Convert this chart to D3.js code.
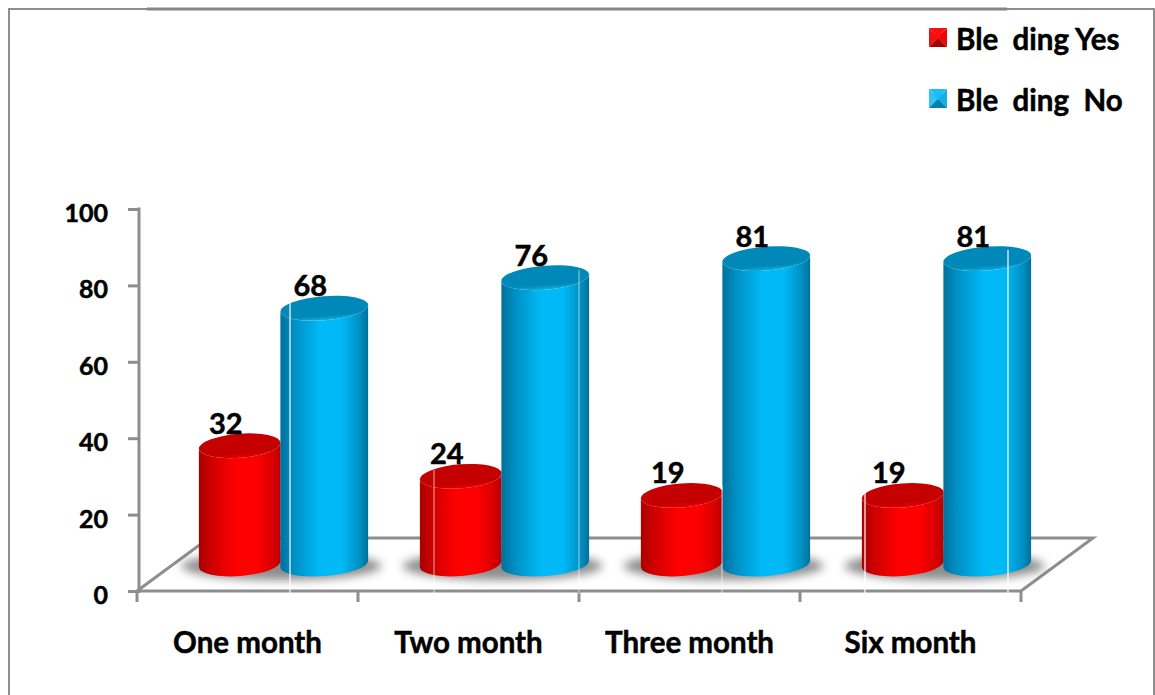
<!DOCTYPE html>
<html>

<head>
    <meta charset="utf-8">
    <title>Bleeding by month</title>
    <script src="https://cdn.jsdelivr.net/npm/d3@7/dist/d3.min.js"></script>
</head>

<style>
    html,
    body {
        margin: 0;
        padding: 0;
        background: #fff;
    }

    svg {
        display: block;
    }

    text {
        font-family: Lato, "Open Sans", sans-serif;
        font-weight: 700;
        fill: #000;
        stroke: #000;
        stroke-width: 0.5px;
        white-space: pre;
    }
</style>

<body>
    <svg width="1155" height="695" id="mainsvg"></svg>
    <script>
        const categories = ['One month', 'Two month', 'Three month', 'Six month'];
        const seriesNames = ['Ble  ding Yes', 'Ble  ding  No'];
        const bleedingYes = [32, 24, 19, 19];
        const bleedingNo = [68, 76, 81, 81];
        const yTicks = [0, 20, 40, 60, 80, 100];

        const svg = d3.select('svg');
        const grey = '#8e8e8e';

        // plot area: the front edge of the floor runs along the bottom of the axis
        const x = d3.scaleBand().domain(categories).range([137, 1021]);
        const y = d3.scaleLinear().domain([0, 100]).range([591, 209]);
        // the pair of cylinders inside one category band
        const inner = d3.scaleBand().domain(seriesNames).range([-50, 119]);

        const depthX = 72, depthY = 53;   // how far the floor recedes
        const topLift = 23;               // cap centre sits this far above the axis value
        const baseY = 564;                // centre of the cylinder feet
        const ry = 12;
        const tilt = -4.5;                // degrees, the caps lean a little
        const radius = [41, 44];

        const defs = svg.append('defs');

        function sideGradient(id, edgeL, mid, edgeR) {
            const g = defs.append('linearGradient').attr('id', id);
            [[0, edgeL], [0.14, d3.interpolateRgb(edgeL, mid)(0.4)], [0.45, mid], [0.7, mid], [0.9, d3.interpolateRgb(edgeR, mid)(0.45)], [1, edgeR]]
                .forEach(s => g.append('stop').attr('offset', s[0]).attr('stop-color', s[1]));
        }
        sideGradient('sideYes', '#a80000', '#ff0000', '#b80000');
        sideGradient('sideNo', '#00709c', '#00b9f6', '#00709a');

        function capGradient(id, back, front) {
            const g = defs.append('linearGradient').attr('id', id)
                .attr('x1', 0).attr('y1', 0).attr('x2', 0).attr('y2', 1);
            [[0, back], [0.8, back], [1, front]]
                .forEach(s => g.append('stop').attr('offset', s[0]).attr('stop-color', s[1]));
        }
        capGradient('capYes', '#c40000', '#e80000');
        capGradient('capNo', '#0088b8', '#12aee0');

        defs.append('filter').attr('id', 'soft')
            .attr('x', '-20%').attr('y', '-80%').attr('width', '140%').attr('height', '260%')
            .append('feGaussianBlur').attr('stdDeviation', 5);

        // outer frame
        const frame = svg.append('g');
        frame.append('path').attr('d', 'M9,695V9H1154V695')
            .attr('fill', 'none').attr('stroke', grey).attr('stroke-width', 2);
        frame.append('path').attr('d', 'M147,9H1007')
            .attr('fill', 'none').attr('stroke', '#858585').attr('stroke-width', 3);

        // floor
        const floor = svg.append('g').attr('fill', 'none').attr('stroke', grey).attr('stroke-width', 3);
        floor.append('path').attr('d', d3.line()([
            [x.range()[0], y(0)],
            [x.range()[0] + depthX, y(0) - depthY],
            [x.range()[1] + depthX, y(0) - depthY],
            [x.range()[1], y(0)],
            [x.range()[0], y(0)]
        ]));

        // y axis
        const yAxis = svg.append('g')
            .attr('transform', 'translate(139,0)')
            .call(d3.axisLeft(y).tickValues(yTicks).tickSize(11).tickPadding(20));
        yAxis.selectAll('line').attr('stroke', grey).attr('stroke-width', 3);
        yAxis.select('.domain').attr('stroke', grey).attr('stroke-width', 3).attr('d', 'M0,207.5V593');
        yAxis.selectAll('text').attr('font-size', 25).attr('dy', '0.5em');

        // x axis: labels in the band centres, tick marks on the band edges
        const xAxis = svg.append('g')
            .attr('transform', `translate(0,${y(0)})`)
            .call(d3.axisBottom(x).tickSize(0).tickPadding(41));
        xAxis.select('.domain').remove();
        xAxis.selectAll('text').attr('font-size', 29.5);
        xAxis.selectAll('line.edge')
            .data(categories.map(c => x(c)).concat(x.range()[1]))
            .join('line').attr('class', 'edge')
            .attr('x1', d => d).attr('x2', d => d)
            .attr('y1', 0).attr('y2', 11)
            .attr('stroke', grey).attr('stroke-width', 3);

        // cylinders
        const rad = tilt * Math.PI / 180;

        function bodyPath(rx, top) {
            const dx = rx * Math.cos(rad), dy = rx * Math.sin(rad);
            return `M${-dx},${top - dy}L${-dx},${baseY - dy}` +
                `A${rx},${ry} ${tilt} 0 0 ${dx},${baseY + dy}` +
                `L${dx},${top + dy}` +
                `A${rx},${ry} ${tilt} 0 1 ${-dx},${top - dy}Z`;
        }

        const rows = categories.map((c, i) => ({ c, values: [bleedingYes[i], bleedingNo[i]] }));
        const groups = svg.selectAll('g.month').data(rows).join('g')
            .attr('class', 'month')
            .attr('transform', d => `translate(${x(d.c) + x.bandwidth() / 2},0)`);

        groups.append('ellipse')
            .attr('cx', 34).attr('cy', baseY + 2).attr('rx', 100).attr('ry', 14)
            .attr('fill', '#666').attr('opacity', 0.75).attr('filter', 'url(#soft)');

        const keys = ['Yes', 'No'];
        seriesNames.forEach((name, s) => {
            const cyl = groups.append('g')
                .attr('transform', d => `translate(${inner(name) + inner.bandwidth() / 2},0)`);
            cyl.append('path')
                .attr('d', d => bodyPath(radius[s], y(d.values[s]) - topLift))
                .attr('fill', `url(#side${keys[s]})`);
            cyl.append('ellipse')
                .attr('rx', radius[s]).attr('ry', ry)
                .attr('transform', d => `translate(0,${y(d.values[s]) - topLift}) rotate(${tilt})`)
                .attr('fill', `url(#cap${keys[s]})`);
            cyl.append('text')
                .attr('x', -14)
                .attr('y', d => y(d.values[s]) - topLift - 12)
                .attr('text-anchor', 'middle')
                .attr('font-size', 29)
                .text(d => d.values[s]);
        });

        // thin white seams running down through the bars
        svg.append('g').selectAll('line')
            .data([[290, 300, 1], [434, 470, 0.55], [579, 270, 0.5], [722, 485, 0.55], [865, 490, 1], [1008, 250, 1]])
            .join('line')
            .attr('x1', d => d[0]).attr('x2', d => d[0])
            .attr('y1', d => d[1]).attr('y2', 594)
            .attr('stroke', '#fff').attr('stroke-width', 1.2).attr('opacity', d => d[2]);

        // legend with bevelled markers
        const legendColors = [
            { top: '#f81010', left: '#f01010', right: '#e80808', bottom: '#a80000', mid: '#ff1010' },
            { top: '#22bcf0', left: '#30c4f6', right: '#18aee4', bottom: '#0082b0', mid: '#10c0fa' }
        ];
        const legendY = d3.scaleBand().domain(seriesNames).range([8, 130]);
        const legend = svg.selectAll('g.key').data(seriesNames).join('g')
            .attr('class', 'key')
            .attr('transform', d => `translate(929,${legendY(d) + legendY.bandwidth() / 2 - 1})`);
        const s = 9.5;
        legend.each(function (d, i) {
            const g = d3.select(this), c = legendColors[i];
            const tri = (pts, fill) => g.append('path').attr('d', d3.line()(pts) + 'Z').attr('fill', fill);
            tri([[0, -s], [18, -s], [9, 0]], c.top);
            tri([[0, -s], [0, s], [9, 0]], c.left);
            tri([[18, -s], [18, s], [9, 0]], c.right);
            tri([[0, s], [18, s], [9, 0]], c.bottom);
            tri([[4, -5], [14, -5], [9, 2]], c.mid);
            g.append('text')
                .attr('x', 27).attr('y', 0).attr('dy', '0.42em')
                .attr('font-size', 29.5)
                .text(d);
        });
    </script>
</body>

</html>
